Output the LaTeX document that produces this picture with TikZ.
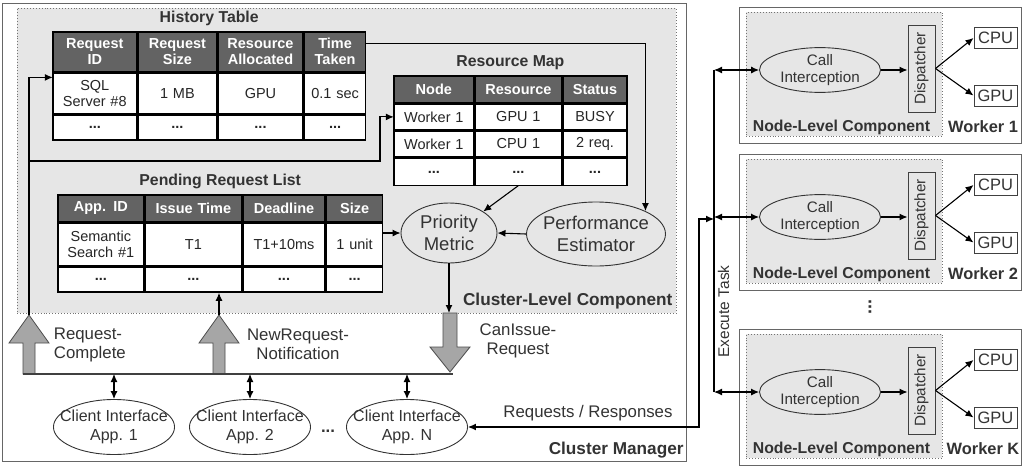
\documentclass[tikz,border=0pt]{standalone}
\usepackage{fontspec}
\setmainfont{Liberation Sans}
\usetikzlibrary{matrix, shapes.geometric, arrows.meta}

\definecolor{hdrgray}{HTML}{636363}
\definecolor{panelgray}{HTML}{E6E6E6}
\definecolor{boxgray}{HTML}{666666}
\definecolor{blockgray}{HTML}{A6A6A6}
\definecolor{txtgray}{HTML}{333333}

\newcommand{\tabfont}{\fontsize{14.5}{16}\selectfont}
\newcommand{\lblfont}{\fontsize{16.8}{19}\selectfont}
\newcommand{\ovalfont}{\fontsize{18.5}{22}\selectfont}
\newcommand{\smlfont}{\fontsize{15.2}{17.5}\selectfont}
\newcommand{\blockup}[3]{%
  \draw[blockarrow] ({#1-6},#3) -- ({#1-6},{#2+28}) -- ({#1-20},{#2+28}) -- (#1,#2)
    -- ({#1+20},{#2+28}) -- ({#1+6},{#2+28}) -- ({#1+6},#3) -- cycle;}
\newcommand{\blockdown}[3]{%
  \draw[blockarrow] ({#1-7},#2) -- ({#1-7},{#3-25}) -- ({#1-20},{#3-25}) -- (#1,#3)
    -- ({#1+20},{#3-25}) -- ({#1+7},{#3-25}) -- ({#1+7},#2) -- cycle;}

\tikzset{
  tbl/.style={matrix of nodes, inner sep=0pt, outer sep=0pt, column sep=0pt, row sep=0pt,
    nodes={draw=black, line width=1.6pt, fill=white, anchor=center, outer sep=0pt,
      inner sep=0pt, align=center, font=\tabfont, text=black!85},
    row 1/.style={nodes={fill=hdrgray, text=white, font=\tabfont\bfseries}}},
  tbltitle/.style={font=\fontsize{15.8}{18}\selectfont\bfseries, text=txtgray, inner sep=2pt, above=3pt},
  oval/.style={ellipse, draw=black!80, line width=0.9pt, inner sep=0pt, align=center, text=txtgray},
  panel/.style={draw=black!55, dotted, line width=0.9pt, fill=panelgray},
  boxframe/.style={draw=boxgray, line width=1.1pt, fill=white},
  unitbox/.style={draw=black!75, line width=1pt, fill=white, inner sep=0pt, minimum width=43,
    minimum height=21, font=\fontsize{16.5}{19}\selectfont, text=txtgray},
  lbl/.style={font=\lblfont, text=txtgray, align=center},
  boldlbl/.style={font=\fontsize{17.2}{20}\selectfont\bfseries, text=txtgray},
  blockarrow/.style={draw=black!70, fill=blockgray, line width=0.8pt, line join=miter},
}

\begin{document}
\begin{tikzpicture}[x=1pt, y=-1pt, line width=1.1pt, >={Latex[length=8pt,width=7pt]}]
\useasboundingbox (0,0) rectangle (1023,466);

\node[boxframe, anchor=north west, minimum width=684, minimum height=458] (cm) at (2,3) {};
\node[boldlbl, anchor=south east, inner sep=3pt] (cmlbl) at (cm.south east) {Cluster Manager};
\node[panel, anchor=north west, minimum width=659, minimum height=305] (clc) at (17,8) {};
\node[boldlbl, anchor=south east, inner sep=4pt] (clclbl) at (clc.south east) {Cluster-Level Component};

\matrix[tbl, anchor=north west,
  column 1/.style={nodes={text width=84pt}},
  column 2/.style={nodes={text width=78pt}},
  column 3/.style={nodes={text width=85pt}},
  column 4/.style={nodes={text width=61pt}},
  row 1/.append style={nodes={minimum height=40pt}},
  row 2/.style={nodes={minimum height=40pt}},
  row 3/.style={nodes={minimum height=25pt}}] (hist) at (52,31) {
  {Request\\ID} & {Request\\Size} & {Resource\\Allocated} & {Time\\Taken} \\
  {SQL\\Server \#8} & 1 MB & GPU & 0.1 sec \\
  \textbf{...} & \textbf{...} & \textbf{...} & \textbf{...} \\
};
\node[tbltitle] (histttl) at (hist.north) {History Table};

\matrix[tbl, anchor=north west,
  column 1/.style={nodes={text width=80pt}},
  column 2/.style={nodes={text width=86pt}},
  column 3/.style={nodes={text width=64pt}},
  row 1/.append style={nodes={minimum height=27pt}},
  row 2/.style={nodes={minimum height=25pt}},
  row 3/.style={nodes={minimum height=26pt}},
  row 4/.style={nodes={minimum height=27pt}}] (rmap) at (393,75) {
  Node & Resource & Status \\
  Worker 1 & GPU 1 & BUSY \\
  Worker 1 & CPU 1 & 2 req. \\
  \textbf{...} & \textbf{...} & \textbf{...} \\
};
\node[tbltitle] (rmapttl) at (rmap.north) {Resource Map};

\matrix[tbl, anchor=north west,
  column 1/.style={nodes={text width=86pt}},
  column 2/.style={nodes={text width=96pt}},
  column 3/.style={nodes={text width=82pt}},
  column 4/.style={nodes={text width=56pt}},
  row 1/.append style={nodes={minimum height=27pt}},
  row 2/.style={nodes={minimum height=42pt}},
  row 3/.style={nodes={minimum height=25pt}}] (pend) at (57,194) {
  App. ID & Issue Time & Deadline & Size \\
  {Semantic\\Search \#1} & T1 & T1+10ms & 1 unit \\
  \textbf{...} & \textbf{...} & \textbf{...} & \textbf{...} \\
};
\node[tbltitle] (pendttl) at (pend.north) {Pending Request List};

\node[oval, fill=panelgray, minimum width=96, minimum height=60, font=\ovalfont] (prio) at (449,233) {Priority\\Metric};
\node[oval, fill=panelgray, minimum width=139, minimum height=64, inner xsep=-4pt, font=\ovalfont] (perf) at (596,234) {Performance\\Estimator};

\foreach \cx/\app/\nm in {114/1/cli1, 250/2/cli2, 407/N/clin}
  \node[oval, fill=white, minimum width=120, minimum height=55, inner xsep=-11pt,
    font=\fontsize{16}{19}\selectfont] (\nm) at (\cx,427) {Client Interface\\App. \app};
\node[font=\lblfont\bfseries, text=txtgray] (clidots) at (328,431) {...};

\blockup{29}{315}{374}
\blockup{219}{315}{374}
\blockdown{450}{313}{372}
\coordinate (rctip) at (29,315);
\coordinate (nrtip) at (219,315);
\coordinate (citop) at (450,313);
\coordinate (busl) at (23,374);
\coordinate (busr) at (453,374);
\draw[black!75, line width=1.3pt] (busl) -- (busr);

\node[lbl, align=left, anchor=west] (rclbl) at (50,345) {Request-\\Complete};
\node[lbl] (nrlbl) at (298,344) {NewRequest-\\Notification};
\node[lbl] (cilbl) at (518,341) {CanIssue-\\Request};
\node[lbl] (rrlbl) at (588,413) {Requests / Responses};

\coordinate (rcfork) at (29,161);
\coordinate (rmturn) at (380,161);
\draw[->] (rctip) |- ([yshift=16pt]hist-2-1.west);
\draw[->] (rcfork) -- (rmturn) |- (rmap-2-1.west);
\draw[->] (nrtip) -- (nrtip |- pend.south);
\draw[->] (prio.south) -- (prio.south |- citop);
\draw[->] ([yshift=8pt]hist-1-4.east) -| (perf.north east);
\path[->]
  (rmap-4-2.south) edge (prio.north east)
  (prio.west -| pend.east) edge (prio.west)
  (perf.west) edge (prio.east);
\foreach \nm in {cli1, cli2, clin}
  \draw[<->] (\nm.north |- busl) -- (\nm.north);

\coordinate (exbus) at (714,230);
\coordinate (rrturn) at (699,219);
\draw[<->] (clin.east) -| (rrturn) -- (rrturn -| exbus);

\foreach \wy/\wl/\wn in {7/1/a, 154/2/b, 329/K/k} {
  \node[boxframe, anchor=north west, minimum width=282, minimum height=136] (wk\wn) at (739,\wy) {};
  \node[panel, anchor=north west, minimum width=196, minimum height=124] (nlc\wn) at (746,{\wy+5}) {};
  \node[oval, fill=panelgray, minimum width=121, minimum height=44, font=\smlfont] (ci\wn) at (820,{\wy+63}) {Call\\Interception};
  \node[draw=black!75, fill=panelgray, line width=1pt, minimum width=87, minimum height=27, inner sep=0pt,
    rotate=90, font=\smlfont, text=txtgray] (disp\wn) at (921.5,{\wy+61.5}) {Dispatcher};
  \node[unitbox] (cpu\wn) at (995.5,{\wy+31}) {CPU};
  \node[unitbox] (gpu\wn) at (995.5,{\wy+88.5}) {GPU};
  \node[font=\fontsize{15.8}{18}\selectfont\bfseries, text=txtgray] (nlclbl\wn) at (841.5,{\wy+120}) {Node-Level Component};
  \node[font=\fontsize{16.4}{19}\selectfont\bfseries, text=txtgray] (wklbl\wn) at (983,{\wy+120}) {Worker \wl};
  \draw[->] (ci\wn.east) -- (ci\wn.east -| disp\wn.north);
  \draw[->] (disp\wn.south) -- (cpu\wn.west);
  \draw[->] (disp\wn.south) -- (gpu\wn.west);
  \draw[<->] (ci\wn.west -| exbus) -- (ci\wn.west);
}
\draw (cik.west -| exbus) -- (cia.west -| exbus)
  node[pos=0.25, sloped, below, font=\fontsize{15.5}{18}\selectfont, text=txtgray] (exlbl) {Execute Task};
\node[font=\fontsize{18}{20}\selectfont\bfseries, text=txtgray, rotate=90] (wkdots) at (870,307) {...};
\end{tikzpicture}
\end{document}
